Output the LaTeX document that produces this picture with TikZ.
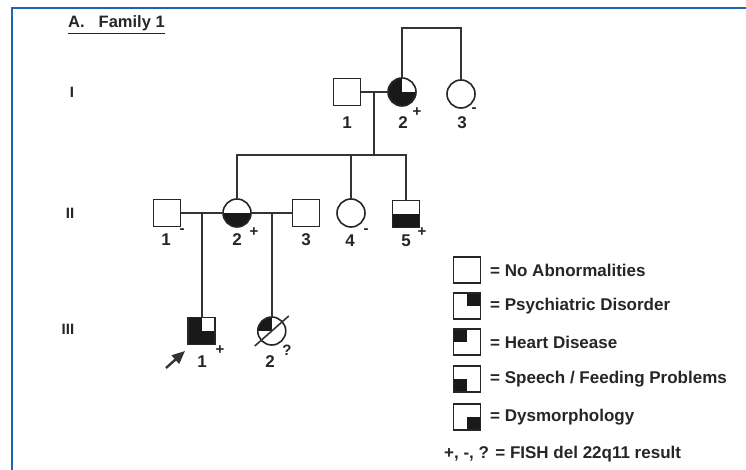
\documentclass[tikz,border=0pt]{standalone}
\usepackage{fontspec}
\setmainfont{Liberation Sans}
\usetikzlibrary{arrows.meta,calc}
\begin{document}
\begin{tikzpicture}[x=1pt,y=-1pt,
  conn/.style={draw=black!80,line width=1.6pt},
  sq/.style={draw=black!85,line width=1.6pt,rectangle,minimum size=27pt,inner sep=0pt,outer sep=0pt},
  ci/.style={draw=black!85,line width=1.6pt,circle,minimum size=28pt,inner sep=0pt,outer sep=0pt},
  fillq/.style={path picture={\foreach \a in {#1}{\fill[black!90] (path picture bounding box.\a) rectangle (path picture bounding box.center);}}},
  num/.style={font=\fontsize{17}{17}\selectfont\bfseries,inner sep=0pt,text=black!85},
  sup/.style={font=\fontsize{15}{15}\selectfont\bfseries,inner sep=0pt,text=black!85},
  gen/.style={font=\fontsize{15}{15}\selectfont\bfseries,inner sep=0pt,text=black!85},
  leg/.style={font=\fontsize{17}{17}\selectfont\bfseries,inner sep=0pt,anchor=west,text=black!85},
  lbox/.style={sq,minimum width=27pt,minimum height=26pt}
]
\useasboundingbox (0,0) rectangle (746,470);
\definecolor{frameblue}{RGB}{30,100,180}
\coordinate (fb) at (12,470);
\coordinate (fc) at (12,8);
\coordinate (fr) at (746,8);
\draw[frameblue,line width=2pt] (fb) -- (fc) -- (fr);

% title
\node[font=\fontsize{16.5}{16.5}\selectfont\bfseries,anchor=base west,inner sep=0pt,text=black!85] (title) at (68,28) {\underline{A.\hspace{14pt}Family 1}};

% generation labels
\node[gen] (gI) at (72,92) {I};
\node[gen] (gII) at (70,213) {II};
\node[gen] (gIII) at (68,329) {III};

% generation I
\node[sq] (I1) at (347,92) {};
\node[ci,fillq={north west,south west,south east}] (I2) at (402,92) {};
\node[ci] (I3) at (461,94) {};
\coordinate (sibI) at (431,28);
\draw[conn] (I2.north) |- (sibI) -| (I3.north);
\draw[conn] (I1.east) -- (I2.west);
\coordinate (mI) at ($(I1.east)!0.5!(I2.west)$);

% generation II
\node[sq] (II1) at (167,213) {};
\node[ci,fillq={south west,south east}] (II2) at (237,213) {};
\node[sq] (II3) at (306,213) {};
\node[ci] (II4) at (351,213) {};
\node[sq,fillq={south west,south east}] (II5) at (406,214) {};
\coordinate (sb) at (mI |- 0,155);
\draw[conn] (mI) -- (sb);
\draw[conn] (II2.north) |- (sb) -| (II5.north);
\draw[conn] (II4.north) -- (II4.north |- sb);
\draw[conn] (II1.east) -- (II2.west);
\draw[conn] (II2.east) -- (II3.west);
\coordinate (m1) at ($(II1.east)!0.5!(II2.west)$);
\coordinate (m2) at ($(II2.east)!0.5!(II3.west)$);

% generation III
\node[sq,fillq={north west,south west,south east}] (III1) at (m1 |- 0,331) {};
\node[ci,fillq={north west}] (III2) at (m2 |- 0,331) {};
\draw[conn] (m1) -- (III1.north);
\draw[conn] (m2) -- (III2.north);
\coordinate (d1) at ($(III2.center)+(-17,15)$);
\coordinate (d2) at ($(III2.center)+(17,-15)$);
\draw[conn] (d1) -- (d2);
\coordinate (ar1) at (166,368);
\coordinate (ar2) at (185,351);
\draw[conn,line width=2.4pt,-{Triangle[length=13pt,width=11pt]}] (ar1) -- (ar2);

% numbers
\node[num] (nI1) at (347,123) {1};
\node[num] (nI2) at (403,123) {2};
\node[sup] (pI2) at (417,112) {+};
\node[num] (nI3) at (462,123) {3};
\node[sup] (pI3) at (474,110) {-};

\node[num] (nII1) at (166,240) {1};
\node[sup] (pII1) at (182,231) {-};
\node[num] (nII2) at (237,240) {2};
\node[sup] (pII2) at (254,232) {+};
\node[num] (nII3) at (306,240) {3};
\node[num] (nII4) at (350,241) {4};
\node[sup] (pII4) at (366,231) {-};
\node[num] (nII5) at (406,241) {5};
\node[sup] (pII5) at (422,232) {+};

\node[num] (nIII1) at (202,362) {1};
\node[sup] (pIII1) at (220,350) {+};
\node[num] (nIII2) at (270,362) {2};
\node[sup] (pIII2) at (287,350) {?};

% legend
\node[lbox] (L1) at (467,270) {};
\node[lbox,fillq={north east}] (L2) at (467,306) {};
\node[lbox,fillq={north west}] (L3) at (467,342) {};
\node[lbox,fillq={south west}] (L4) at (467,379) {};
\node[lbox,fillq={south east}] (L5) at (467,417) {};
\node[leg] (T1) at (490,270) {= No Abnormalities};
\node[leg] (T2) at (490,306) {= Psychiatric Disorder};
\node[leg] (T3) at (490,342) {= Heart Disease};
\node[leg] (T4) at (490,379) {= Speech / Feeding Problems};
\node[leg] (T5) at (490,417) {= Dysmorphology};
\node[leg] (T6) at (444,454) {+, -, ? = FISH del 22q11 result};
\end{tikzpicture}
\end{document}
